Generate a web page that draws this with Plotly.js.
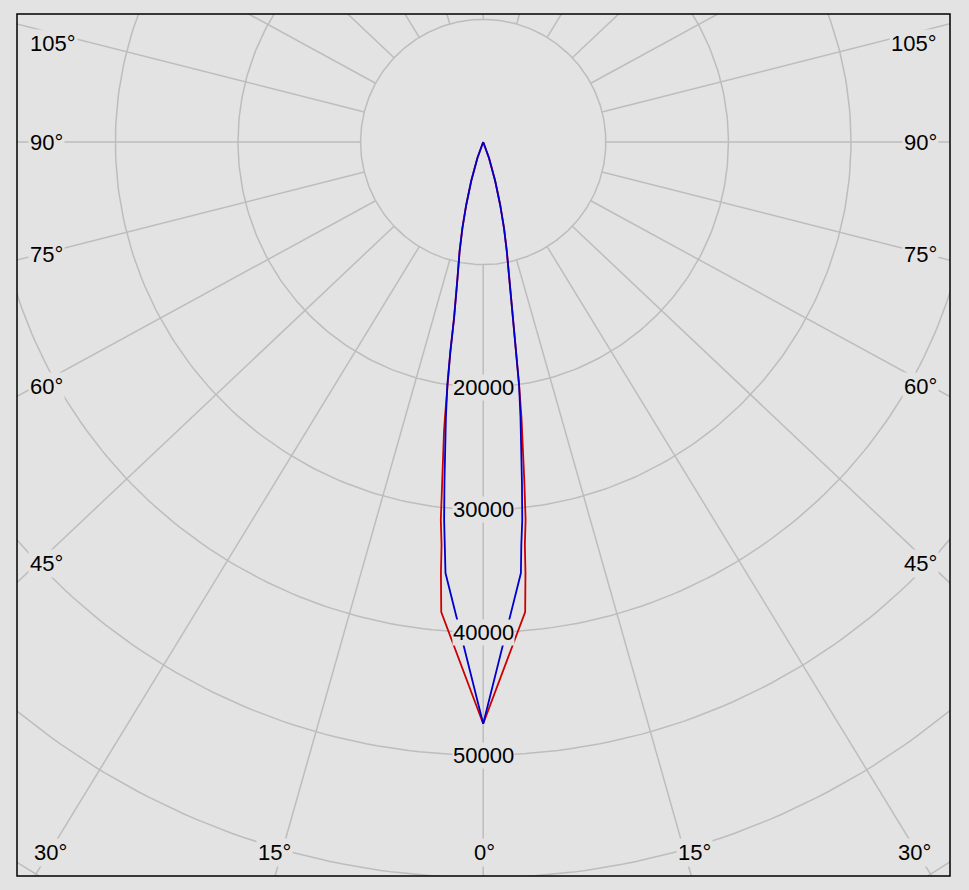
<!DOCTYPE html>
<html>
<head>
<meta charset="utf-8">
<script src="https://cdn.plot.ly/plotly-3.0.1.min.js"></script>
<style>html,body{margin:0;padding:0;background:#e3e3e3;}#chart{width:969px;height:890px;}</style>
</head>
<body>
<div id="chart"></div>
<script>
// ---- data (gamma angle in degrees, negative = left half; luminous intensity in cd) ----
const redAngles = [-25, -19.9, -17.1, -15.1, -13.6, -12.2, -10.7, -9.9, -9.4, -8.9, -8.4, -7.9, -7.7, -6.9, -6.4, -5.9, -5.6, -5.1, 0,
                   5.1, 5.6, 5.9, 6.4, 6.9, 7.7, 7.9, 8.4, 8.9, 9.4, 9.9, 10.7, 12.2, 13.6, 15.1, 17.1, 19.9, 25];
const redValues = [0, 1390, 3330, 5320, 7220, 9100, 11290, 13080, 14550, 17340, 20030, 22730, 23870, 27940, 31020, 33050, 35320, 38490, 47450,
                   38490, 35320, 33050, 31020, 27940, 23870, 22730, 20030, 17340, 14550, 13080, 11290, 9100, 7220, 5320, 3330, 1390, 0];
const blueAngles = [-25, -19.9, -17.1, -15.1, -13.6, -12.2, -10.7, -9.9, -9.4, -8.9, -8.4, -7.7, -7.4, -6.5, -5.9, -5.4, -5.0, 0,
                    5.0, 5.4, 5.9, 6.5, 7.4, 7.7, 8.4, 8.9, 9.4, 9.9, 10.7, 12.2, 13.6, 15.1, 17.1, 19.9, 25];
const blueValues = [0, 1390, 3330, 5320, 7220, 9100, 11290, 13080, 14550, 17340, 20030, 22710, 23850, 27910, 31000, 33020, 35290, 47450,
                    35290, 33020, 31000, 27910, 23850, 22710, 20030, 17340, 14550, 13080, 11290, 9100, 7220, 5320, 3330, 1390, 0];
const circleValues = [10000, 20000, 30000, 40000, 50000, 60000, 70000];
const radialTickLabels = [20000, 30000, 40000, 50000];
const spokeAngles = [0, 15, 30, 45, 60, 75, 90, 105, 120, 135, 150, 165, 180, 195, 210, 225, 240, 255, 270, 285, 300, 315, 330, 345];
const leftAngleLabels = ['105°', '90°', '75°', '60°', '45°'];
const rightAngleLabels = ['105°', '90°', '75°', '60°', '45°'];
const bottomAngleLabels = ['30°', '15°', '0°', '15°', '30°'];

// ---- layout geometry (pixels) ----
const W = 969, H = 890;
const PX_PER_10K = 122.6;
const CX = 483.2, CY = 142;
const FR = {l: 17, r: 950, t: 14, b: 876};
const K = 0.945; // spoke vertical compression seen in the reference
const BG = '#e3e3e3';
const GRID = '#bdbdbd';
const u = 10000 / PX_PER_10K;
const xRange = [(FR.l - CX) * u, (FR.r - CX) * u];
const yRange = [-(FR.b - CY) * u, (CY - FR.t) * u];
const deg = Math.PI / 180;

const traces = [];
// grid circles
circleValues.forEach(r => {
  const xs = [], ys = [];
  for (let a = 0; a <= 360; a += 1) { xs.push(r * Math.sin(a * deg)); ys.push(-r * Math.cos(a * deg)); }
  traces.push({x: xs, y: ys, mode: 'lines', line: {color: GRID, width: 1.5}, hoverinfo: 'skip', showlegend: false});
});
// spokes
(function () {
  const xs = [], ys = [];
  spokeAngles.forEach(a => {
    let dx = Math.sin(a * deg), dy = -K * Math.cos(a * deg);
    const n = Math.hypot(dx, dy); dx /= n; dy /= n;
    xs.push(circleValues[0] * dx, 120000 * dx, null);
    ys.push(circleValues[0] * dy, 120000 * dy, null);
  });
  traces.push({x: xs, y: ys, mode: 'lines', line: {color: GRID, width: 1.5}, hoverinfo: 'skip', showlegend: false});
})();
// data curves
function curve(angles, vals, color, name) {
  return {
    x: angles.map((a, i) => vals[i] * Math.sin(a * deg)),
    y: angles.map((a, i) => -vals[i] * Math.cos(a * deg)),
    mode: 'lines', name: name, line: {color: color, width: 1.8}, showlegend: false
  };
}
traces.push(curve(redAngles, redValues, 'rgb(204,0,0)', 'C0-C180'));
traces.push(curve(blueAngles, blueValues, 'rgb(0,0,204)', 'C90-C270'));

const font = {family: 'Liberation Sans, Arial, sans-serif', size: 22, color: '#000'};
const annotations = [];
radialTickLabels.forEach(r => {
  annotations.push({x: 0, y: -r, xref: 'x', yref: 'y', text: String(r), showarrow: false,
    font: font, bgcolor: BG, borderpad: 0, xanchor: 'center', yanchor: 'middle'});
});
const sideY = [43, 142, 255, 386, 563];
leftAngleLabels.forEach((t, i) => {
  annotations.push({x: 28 / W, y: 1 - sideY[i] / H, xref: 'paper', yref: 'paper', text: t, showarrow: false,
    font: font, bgcolor: BG, borderpad: 1, xanchor: 'left', yanchor: 'middle'});
});
rightAngleLabels.forEach((t, i) => {
  annotations.push({x: 939 / W, y: 1 - sideY[i] / H, xref: 'paper', yref: 'paper', text: t, showarrow: false,
    font: font, bgcolor: BG, borderpad: 1, xanchor: 'right', yanchor: 'middle'});
});
const bottomX = [50.5, 274, 484, 694, 914.5];
bottomAngleLabels.forEach((t, i) => {
  annotations.push({x: bottomX[i] / W, y: 1 - 852 / H, xref: 'paper', yref: 'paper', text: t, showarrow: false,
    font: font, bgcolor: BG, borderpad: 1, xanchor: 'center', yanchor: 'middle'});
});

const layout = {
  width: W, height: H, autosize: false,
  margin: {l: 0, r: 0, t: 0, b: 0, pad: 0},
  paper_bgcolor: BG, plot_bgcolor: BG,
  showlegend: false,
  xaxis: {range: xRange, domain: [FR.l / W, FR.r / W], visible: false, fixedrange: true},
  yaxis: {range: yRange, domain: [1 - FR.b / H, 1 - FR.t / H], visible: false, fixedrange: true},
  annotations: annotations,
  shapes: [{type: 'rect', xref: 'paper', yref: 'paper', x0: FR.l / W, x1: FR.r / W, y0: 1 - FR.b / H, y1: 1 - FR.t / H,
    line: {color: '#000', width: 1.5}, layer: 'above'}]
};
Plotly.newPlot('chart', traces, layout, {displayModeBar: false, staticPlot: true});
</script>
</body>
</html>
